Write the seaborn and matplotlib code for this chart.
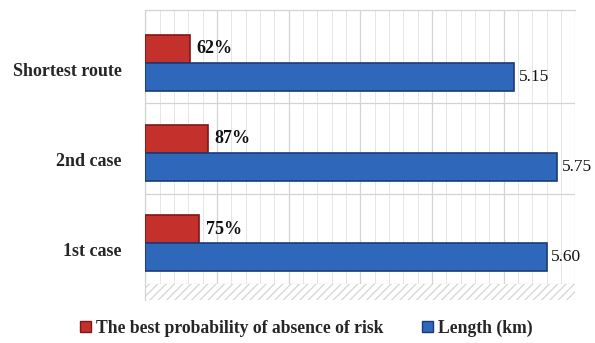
import matplotlib
matplotlib.use("Agg")
import matplotlib.pyplot as plt
from matplotlib.ticker import MultipleLocator
import pandas as pd
import seaborn as sns

categories = ["Shortest route", "2nd case", "1st case"]
series_names = ["The best probability of absence of risk", "Length (km)"]
probability = [0.62, 0.87, 0.75]
probability_labels = ["62%", "87%", "75%"]
length_km = [5.15, 5.75, 5.60]
length_labels = ["5.15", "5.75", "5.60"]

colors = {series_names[0]: "#c4302b", series_names[1]: "#2f67bb"}
edges = {series_names[0]: "#7f1714", series_names[1]: "#1b3b74"}

df = pd.DataFrame({
    "case": categories * 2,
    "series": [series_names[0]] * 3 + [series_names[1]] * 3,
    "value": probability + length_km,
    "label": probability_labels + length_labels,
})

sns.set_style("white")
plt.rcParams["font.family"] = ["Liberation Serif", "DejaVu Serif"]

fig = plt.figure(figsize=(5.95, 3.43), dpi=100)
ax = fig.add_axes([0.244, 0.125, 0.723, 0.845])

sns.barplot(
    data=df, x="value", y="case", hue="series",
    order=categories, hue_order=series_names,
    palette=colors, width=0.62, gap=0, orient="h",
    saturation=1, ax=ax, legend=False,
)

for cont, name in zip(ax.containers, series_names):
    for bar in cont:
        bar.set_edgecolor(edges[name])
        bar.set_linewidth(1.2)
        bar.set_zorder(3)

for cont, name in zip(ax.containers, series_names):
    labs = df[df["series"] == name]["label"].tolist()
    if name == series_names[0]:
        ax.bar_label(cont, labels=labs, padding=5, fontsize=13,
                     fontweight="bold", color="#111111")
    else:
        ax.bar_label(cont, labels=labs, padding=3, fontsize=12.5,
                     color="#111111")

ax.set_xlim(0, 6)
ax.set_ylim(2.63, -0.58)
ax.xaxis.set_major_locator(MultipleLocator(1))
ax.xaxis.set_minor_locator(MultipleLocator(0.2))
ax.grid(axis="x", which="major", color="#d4d4d4", lw=0.9, zorder=0)
ax.grid(axis="x", which="minor", color="#e6e6e6", lw=0.7, zorder=0)
for yy in [0.45, 1.45, 2.45]:
    ax.axhline(yy, color="#d4d4d4", lw=0.9, zorder=1)
ax.axhspan(2.45, 2.63, facecolor="white", edgecolor="#d8d8d8",
           hatch="////", lw=0, zorder=1)

ax.tick_params(axis="x", which="both", bottom=False, labelbottom=False)
ax.tick_params(axis="y", length=0, pad=17)
for t in ax.get_yticklabels():
    t.set_fontweight("bold")
    t.set_fontsize(13)
    t.set_va("top")
ax.set_xlabel("")
ax.set_ylabel("")
for side in ["right", "bottom"]:
    ax.spines[side].set_visible(False)
for side in ["left", "top"]:
    ax.spines[side].set_color("#d4d4d4")
    ax.spines[side].set_linewidth(0.9)

handles = [plt.Rectangle((0, 0), 1, 1, facecolor=colors[n], edgecolor=edges[n])
           for n in series_names]
fig.legend(handles, series_names, loc="center", bbox_to_anchor=(0.515, 0.043),
           ncol=2, frameon=False, handlelength=0.6, handleheight=0.6,
           handletextpad=0.3, columnspacing=2.2,
           prop={"weight": "bold", "size": 12.7})

fig.savefig("out.png", dpi=100)
